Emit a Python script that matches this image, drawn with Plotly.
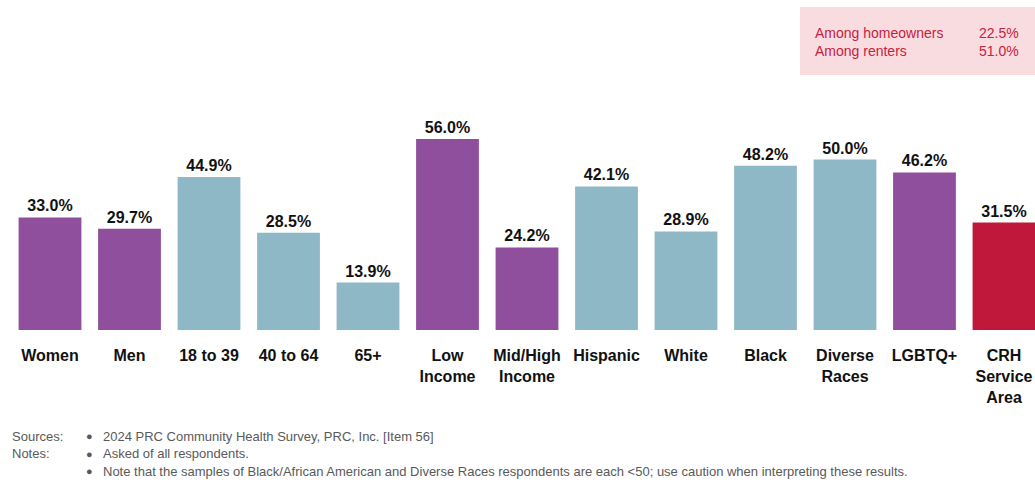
import plotly.graph_objects as go

categories = ["Women", "Men", "18 to 39", "40 to 64", "65+", "Low<br>Income", "Mid/High<br>Income",
              "Hispanic", "White", "Black", "Diverse<br>Races", "LGBTQ+", "CRH<br>Service<br>Area"]
values = [33.0, 29.7, 44.9, 28.5, 13.9, 56.0, 24.2, 42.1, 28.9, 48.2, 50.0, 46.2, 31.5]
groups = ["p", "p", "b", "b", "b", "p", "p", "b", "b", "b", "b", "p", "r"]

tenure_labels = ["Among homeowners", "Among renters"]
tenure_values = ["22.5%", "51.0%"]

PURPLE = "#904F9C"
BLUE = "#8FB8C6"
RED = "#C0183A"
color_map = {"p": PURPLE, "b": BLUE, "r": RED}

NARROW = "Liberation Sans Narrow, Arial Narrow, Liberation Sans, Arial"

fig = go.Figure()
fig.add_trace(go.Bar(
    x=list(range(len(categories))), y=values,
    width=0.79,
    marker=dict(color=[color_map[g] for g in groups], line=dict(width=0)),
    text=[f"{v:.1f}%" for v in values],
    textposition="outside",
    textfont=dict(family=NARROW, size=16, color="#111111"),
    texttemplate="<b>%{text}</b>",
    cliponaxis=False,
    hoverinfo="skip",
))

fig.update_layout(
    width=1035, height=482,
    margin=dict(l=0, r=0, t=0, b=0),
    plot_bgcolor="white", paper_bgcolor="white",
    showlegend=False,
    xaxis=dict(
        range=[-0.629, 12.39],
        tickmode="array",
        tickvals=list(range(len(categories))),
        ticktext=[f"<b>{c}</b>" for c in categories],
        tickfont=dict(family=NARROW, size=16, color="#111111"),
        ticklabelstandoff=14,
        showgrid=False, zeroline=False, showline=False, ticks="",
    ),
    yaxis=dict(range=[0, 60], domain=[0.3154, 0.7398], visible=False),
)

# tenure box
fig.add_shape(type="rect", xref="paper", yref="paper",
              x0=800 / 1035, x1=1.0, y0=1 - 75 / 482, y1=1 - 7 / 482,
              fillcolor="#F9DCDF", line=dict(width=0), layer="below")
for i, (lab, val) in enumerate(zip(tenure_labels, tenure_values)):
    yy = 1 - (33 + 18 * i) / 482
    fig.add_annotation(xref="paper", yref="paper", x=813 / 1035, y=yy, text=lab,
                       showarrow=False, xanchor="left", yanchor="middle",
                       font=dict(family="Liberation Sans, Arial", size=14, color="#C8203F"))
    fig.add_annotation(xref="paper", yref="paper", x=1021 / 1035, y=yy, text=val,
                       showarrow=False, xanchor="right", yanchor="middle",
                       font=dict(family="Liberation Sans, Arial", size=14, color="#C8203F"))

# footnotes
note_font = dict(family=NARROW, size=13, color="#595959")
notes = [
    ("Sources:", "2024 PRC Community Health Survey, PRC, Inc. [Item 56]"),
    ("Notes:", "Asked of all respondents."),
    ("", "Note that the samples of Black/African American and Diverse Races respondents are each <50; "
         "use caution when interpreting these results."),
]
for i, (head, body) in enumerate(notes):
    yy = 1 - (436 + 17.5 * i) / 482
    if head:
        fig.add_annotation(xref="paper", yref="paper", x=10 / 1035, y=yy, text=head,
                           showarrow=False, xanchor="left", yanchor="middle", font=note_font)
    fig.add_annotation(xref="paper", yref="paper", x=84 / 1035, y=yy, text="●",
                       showarrow=False, xanchor="left", yanchor="middle",
                       font=dict(family=NARROW, size=11, color="#595959"))
    fig.add_annotation(xref="paper", yref="paper", x=101 / 1035, y=yy, text=body,
                       showarrow=False, xanchor="left", yanchor="middle", font=note_font)

fig.write_html("out.html", config={"displayModeBar": False},
               post_script="document.body.style.margin='0';document.body.style.overflow='hidden';")
